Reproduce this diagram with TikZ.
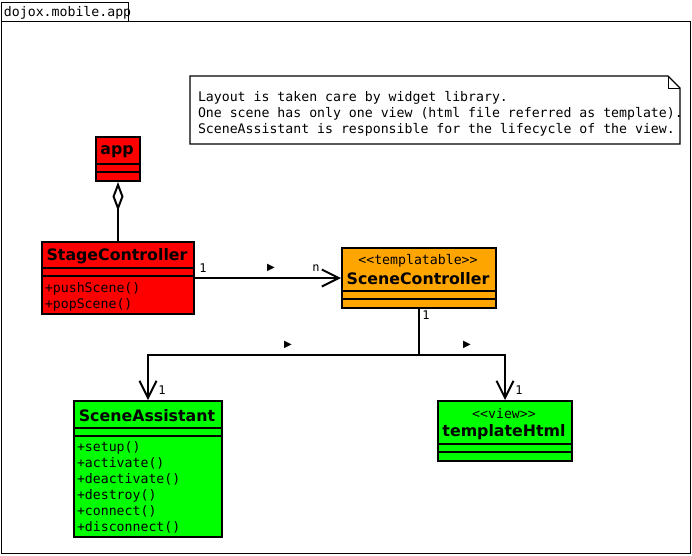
\documentclass[tikz,border=0pt]{standalone}
\usepackage{fontspec}
\setmainfont{DejaVu Sans}
\newfontfamily\monof{DejaVu Sans Mono}
\usetikzlibrary{arrows.meta}
\definecolor{sorange}{HTML}{FFA500}
\definecolor{sgreen}{HTML}{00FF00}
\definecolor{sred}{HTML}{FF0000}
\begin{document}
\begin{tikzpicture}[x=1pt,y=-1pt,line width=2pt,
  cls/.style={draw=black,line width=2pt,inner sep=0pt,anchor=north west},
  cname/.style={font=\bfseries\fontsize{15.8}{16}\selectfont,inner sep=0pt,yshift=-2pt},
  mtxt/.style={font=\monof\fontsize{13.2}{16}\selectfont,inner sep=0pt,yshift=-1.5pt},
  stxt/.style={font=\monof\fontsize{12}{12}\selectfont,inner sep=0pt},
  tri/.style={font=\fontsize{10}{10}\selectfont,inner sep=0pt},
  barb/.style={-{Straight Barb[length=17pt,width=17pt,line width=2pt]}}
]
\useasboundingbox (0,0) rectangle (692,555);
% package frame
\node[cls,line width=1.4pt,minimum width=127pt,minimum height=19pt] (tab) at (1,2) {};
\node[mtxt,anchor=west] (pkg) at (3,11) {dojox.mobile.app};
\node[cls,line width=1.4pt,minimum width=689pt,minimum height=532pt] (frame) at (1,21) {};
% note
\node[cls,draw=none,minimum width=488pt,minimum height=66pt] (note) at (190,76) {};
\draw[line width=1.4pt] (note.north west) -- ([xshift=-12pt]note.north east) -- ([yshift=-12pt]note.north east) -- (note.south east) -- (note.south west) -- cycle;
\draw[line width=1pt] ([xshift=-12pt]note.north east) -- ([xshift=-12pt,yshift=-12pt]note.north east) -- ([yshift=-12pt]note.north east);
\node[mtxt,anchor=north west,align=left] (notetext) at (197,89) {Layout is taken care by widget library.\\One scene has only one view (html file referred as template).\\SceneAssistant is responsible for the lifecycle of the view.};
% app
\node[cls,fill=sred,minimum width=44pt,minimum height=44pt] (app) at (95,136) {};
\draw (95,164) -- (139,164) (95,172) -- (139,172);
\node[cname] (appname) at (117,150) {app};
% StageController
\node[cls,fill=sred,minimum width=152pt,minimum height=72pt] (stage) at (41,241) {};
\draw (41,268) -- (193,268) (41,276) -- (193,276);
\node[cname] (stagename) at (117,254) {StageController};
\node[mtxt,anchor=west] (m1) at (44,287) {+pushScene()};
\node[mtxt,anchor=west] (m2) at (44,303) {+popScene()};
% SceneController
\node[cls,fill=sorange,minimum width=154pt,minimum height=60pt] (scene) at (341,247) {};
\draw (341,291) -- (495,291) (341,299) -- (495,299);
\node[mtxt] (scst) at (418,259) {<<templatable>>};
\node[cname] (scname) at (418,277) {SceneController};
% SceneAssistant
\node[cls,fill=sgreen,minimum width=148pt,minimum height=136pt] (assist) at (73,400) {};
\draw (73,428) -- (221,428) (73,436) -- (221,436);
\node[cname] (asname) at (147,414) {SceneAssistant};
\foreach \t [count=\i] in {+setup(),+activate(),+deactivate(),+destroy(),+connect(),+disconnect()}
  \node[mtxt,anchor=west] (am\i) at (76,430+16*\i) {\t};
% templateHtml
\node[cls,fill=sgreen,minimum width=134pt,minimum height=60pt] (tmpl) at (437,400) {};
\draw (437,444) -- (571,444) (437,452) -- (571,452);
\node[mtxt] (tmst) at (504,412) {<<view>>};
\node[cname] (tmname) at (504,430) {templateHtml};
% connectors
\draw[-{Diamond[open,length=29pt,width=11pt,line width=2pt]}] (stage.north) -- (app.south);
\draw[barb] (stage.east) -- (scene.west);
\draw[barb] (scene.south) -- ++(0,46) -| (assist.north);
\draw[barb] (scene.south) -- ++(0,46) -| (tmpl.north);
% labels
\node[stxt] (l1) at (203,268) {1};
\node[stxt] (ln) at (316,268) {n};
\node[tri] (t1) at (271,268) {▶};
\node[stxt] (l2) at (426,315) {1};
\node[tri] (t2) at (288,345) {▶};
\node[tri] (t3) at (467,345) {▶};
\node[stxt] (l3) at (162,390) {1};
\node[stxt] (l4) at (519,390) {1};
\end{tikzpicture}
\end{document}
